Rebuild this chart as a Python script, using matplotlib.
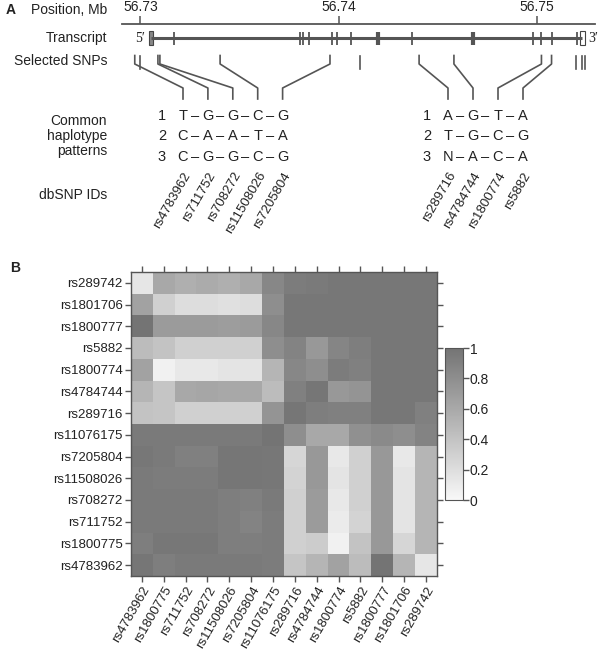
import numpy as np
import matplotlib.pyplot as plt
from matplotlib.colors import LinearSegmentedColormap
from matplotlib.patches import Rectangle

plt.rcParams['font.family'] = ['Liberation Sans', 'DejaVu Sans']

# SNPs in genomic order, position in Mb
snp_ids = ['rs4783962', 'rs1800775', 'rs711752', 'rs708272', 'rs11508026',
           'rs7205804', 'rs11076175', 'rs289716', 'rs4784744', 'rs1800774',
           'rs5882', 'rs1800777', 'rs1801706', 'rs289742']
snp_pos = [56.72971, 56.72996, 56.73088, 56.73098, 56.73402, 56.73957,
           56.74109, 56.74407, 56.74583, 56.75025, 56.75076, 56.75199,
           56.75230, 56.75245]

# transcript structure (Mb)
tx_start, tx_end = 56.73053, 56.75232
exon_pos = [56.73169, 56.73806, 56.73823, 56.73851, 56.73967, 56.73992,
            56.74063, 56.74371, 56.74982, 56.75025, 56.75076, 56.75205]
exon_wide = [56.74199, 56.74679]
pos_ticks = [56.73, 56.74, 56.75]

# haplotype blocks
left_snps = ['rs4783962', 'rs711752', 'rs708272', 'rs11508026', 'rs7205804']
left_haps = ['TGGCG', 'CAATA', 'CGGCG']
right_snps = ['rs289716', 'rs4784744', 'rs1800774', 'rs5882']
right_haps = ['AGTA', 'TGCG', 'NACA']

# LD heatmap (rows top to bottom, columns left to right)
heat_rows = ['rs289742', 'rs1801706', 'rs1800777', 'rs5882', 'rs1800774',
             'rs4784744', 'rs289716', 'rs11076175', 'rs7205804', 'rs11508026',
             'rs708272', 'rs711752', 'rs1800775', 'rs4783962']
heat_cols = heat_rows[::-1]
ld = [
    [0.13, 0.60, 0.55, 0.58, 0.55, 0.60, 0.85, 0.93, 0.95, 0.97, 0.97, 0.97, 0.97, 0.97],
    [0.65, 0.30, 0.20, 0.20, 0.18, 0.20, 0.80, 0.97, 0.97, 0.97, 0.97, 0.97, 0.97, 0.97],
    [1.00, 0.70, 0.70, 0.70, 0.68, 0.70, 0.85, 0.97, 0.97, 0.97, 0.97, 0.97, 0.97, 0.97],
    [0.45, 0.40, 0.30, 0.30, 0.30, 0.30, 0.80, 0.88, 0.72, 0.87, 0.92, 0.97, 0.97, 0.97],
    [0.65, 0.05, 0.12, 0.12, 0.15, 0.15, 0.50, 0.85, 0.80, 0.93, 0.90, 0.97, 0.97, 0.97],
    [0.50, 0.38, 0.60, 0.62, 0.60, 0.60, 0.45, 0.90, 0.98, 0.72, 0.75, 0.97, 0.97, 0.97],
    [0.40, 0.38, 0.30, 0.30, 0.30, 0.30, 0.75, 0.98, 0.92, 0.90, 0.90, 0.97, 0.97, 0.90],
    [0.95, 0.95, 0.95, 0.95, 0.95, 0.95, 1.00, 0.80, 0.60, 0.60, 0.78, 0.83, 0.80, 0.88],
    [0.97, 0.95, 0.90, 0.90, 0.98, 0.98, 0.97, 0.25, 0.72, 0.12, 0.30, 0.72, 0.12, 0.50],
    [0.95, 0.93, 0.93, 0.93, 0.98, 0.98, 0.97, 0.28, 0.72, 0.15, 0.30, 0.72, 0.15, 0.50],
    [0.95, 0.95, 0.95, 0.95, 0.92, 0.90, 0.95, 0.30, 0.70, 0.12, 0.30, 0.72, 0.15, 0.50],
    [0.95, 0.95, 0.95, 0.95, 0.92, 0.88, 0.93, 0.30, 0.70, 0.10, 0.28, 0.72, 0.15, 0.50],
    [0.92, 0.97, 0.97, 0.97, 0.92, 0.92, 0.93, 0.30, 0.33, 0.05, 0.40, 0.72, 0.25, 0.50],
    [0.98, 0.92, 0.95, 0.95, 0.95, 0.95, 0.93, 0.38, 0.50, 0.65, 0.45, 1.00, 0.50, 0.13],
]
cbar_ticks = [0, 0.2, 0.4, 0.6, 0.8, 1]
cbar_labels = ['0', '0.2', '0.4', '0.6', '0.8', '1']

W, H = 600, 650
fig = plt.figure(figsize=(W / 100, H / 100), dpi=100)
ink = '#222222'
line = '#555555'

# ---- panel A: full-figure axes, x in Mb, y in pixels from top
ppm = 19800.0  # pixels per Mb
x0 = 56.73 - 140.5 / ppm
def px2mb(p):
    return x0 + p / ppm

axA = fig.add_axes([0, 0, 1, 1])
axA.set_xlim(x0, x0 + W / ppm)
axA.set_ylim(H, 0)
axA.patch.set_alpha(0)
for s in ['left', 'right', 'bottom']:
    axA.spines[s].set_visible(False)
axA.spines['top'].set_position(('data', 24))
axA.spines['top'].set_bounds(px2mb(122), px2mb(595))
axA.spines['top'].set_color(line)
axA.spines['top'].set_linewidth(1.3)
axA.xaxis.set_ticks_position('top')
axA.set_xticks(pos_ticks)
axA.set_xticklabels(['%.2f' % t for t in pos_ticks])
axA.tick_params(axis='x', direction='out', length=6, width=1.1, color=line,
                labelcolor=ink, labelsize=10, pad=1)
axA.set_yticks([])

ylab = axA.get_yaxis_transform()
fx = 107 / W
axA.text(6 / W, 10, 'A', transform=ylab, fontsize=10, fontweight='bold', va='center', color=ink)
axA.text(fx, 10, 'Position, Mb', transform=ylab, ha='right', va='center', fontsize=10, color=ink)
axA.text(fx, 38, 'Transcript', transform=ylab, ha='right', va='center', fontsize=10, color=ink)
axA.text(fx, 61, 'Selected SNPs', transform=ylab, ha='right', va='center', fontsize=10, color=ink)
axA.text(fx, 136, 'Common\nhaplotype\npatterns', transform=ylab, ha='right', va='center',
         fontsize=10, color=ink, linespacing=1.05)
axA.text(fx, 195, 'dbSNP IDs', transform=ylab, ha='right', va='center', fontsize=10, color=ink)

# transcript
axA.plot([tx_start, tx_end], [38, 38], lw=2.2, color=line, solid_capstyle='butt')
axA.vlines(exon_pos, 32, 45, lw=1.3, color=line)
axA.vlines(exon_wide, 32, 45, lw=3.0, color=line)
bw = 4.5 / ppm
axA.add_patch(Rectangle((tx_start - bw / 2, 31), bw, 14, facecolor='#888888', edgecolor='#444444', lw=0.8))
axA.add_patch(Rectangle((tx_end - bw / 2, 31), bw, 14, facecolor='white', edgecolor='#444444', lw=0.8))
axA.text(tx_start - 6 / ppm, 38, '5\u2032', ha='right', va='center', fontsize=10,
         family='Liberation Serif', color=ink)
axA.text(tx_end + 6 / ppm, 38, '3\u2032', ha='left', va='center', fontsize=10,
         family='Liberation Serif', color=ink)

# columns of the haplotype blocks
left_cols = [px2mb(183 + 24.9 * j) for j in range(len(left_snps))]
right_cols = [px2mb(448 + 25.0 * j) for j in range(len(right_snps))]
targets = dict(zip(left_snps, left_cols))
targets.update(zip(right_snps, right_cols))

# SNP marks and connectors
for sid, p in zip(snp_ids, snp_pos):
    if sid in targets:
        t = targets[sid]
        axA.plot([p, p, t, t], [55.5, 64, 88, 99], color=line, lw=1.2)
    else:
        axA.plot([p, p], [55.5, 69], color=line, lw=1.2)

# haplotype letters
def draw_block(cols, haps, num_px):
    step = cols[1] - cols[0]
    for i, h in enumerate(haps):
        y = 116 + 20.5 * i
        axA.text(px2mb(num_px), y, str(i + 1), ha='center', va='center', fontsize=10.5, color=ink)
        for j, ch in enumerate(h):
            axA.text(cols[j], y, ch, ha='center', va='center', fontsize=10.5, color=ink)
            if j < len(h) - 1:
                axA.text(cols[j] + step / 2, y, '\u2013', ha='center', va='center',
                         fontsize=10.5, color=ink)

draw_block(left_cols, left_haps, 162)
draw_block(right_cols, right_haps, 427)

for sid, c in list(zip(left_snps, left_cols)) + list(zip(right_snps, right_cols)):
    axA.text(c + 5 / ppm, 173, sid, rotation=60, ha='right', va='center',
             rotation_mode='anchor', fontsize=9.5, color=ink)

# ---- panel B: LD heatmap
axA.text(10 / W, 268, 'B', transform=ylab, fontsize=10, fontweight='bold', va='center', color=ink)

cmap = LinearSegmentedColormap.from_list('ld', ['#f8f8f8', '#747474'])
axB = fig.add_axes([131 / W, 1 - 576 / H, 306 / W, 304 / H])
im = axB.imshow(np.array(ld), cmap=cmap, vmin=0, vmax=1, aspect='auto', interpolation='nearest')
axB.set_xticks(range(len(heat_cols)))
axB.set_xticklabels(heat_cols, rotation=60, ha='right', rotation_mode='anchor')
axB.set_yticks(range(len(heat_rows)))
axB.set_yticklabels(heat_rows)
axB.tick_params(top=True, right=True, direction='out', length=4, width=1, color=line,
                labelcolor=ink, labelsize=9.5, pad=2)
for s in axB.spines.values():
    s.set_color(line)
    s.set_linewidth(1)

cax = fig.add_axes([445 / W, 1 - 500 / H, 18 / W, 152 / H])
cb = fig.colorbar(im, cax=cax, ticks=cbar_ticks)
cb.ax.set_yticklabels(cbar_labels)
cb.outline.set_edgecolor(line)
cb.ax.tick_params(length=4, width=1, color=line, labelcolor=ink, labelsize=10, pad=1)

fig.savefig('out.png', dpi=100)
